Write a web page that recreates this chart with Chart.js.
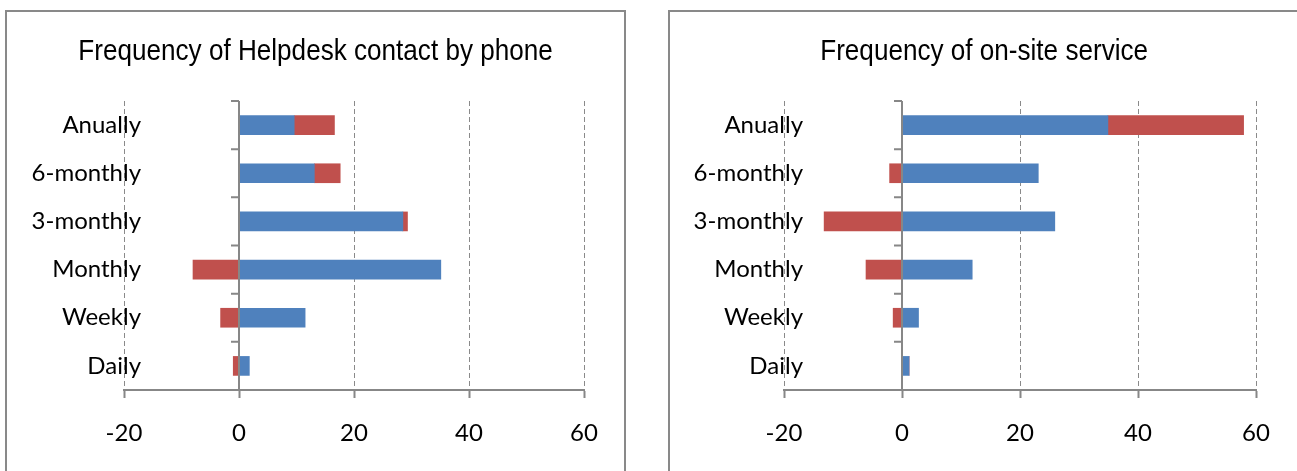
<!DOCTYPE html>
<html>
<head>
<meta charset="utf-8">
<script src="https://cdn.jsdelivr.net/npm/chart.js@4"></script>
<style>
  body { margin: 0; background: #fff; width: 1297px; height: 471px; overflow: hidden; position: relative; }
  .panel { position: absolute; top: 10px; height: 480px; border: 2px solid #898989; box-sizing: border-box; }
  .title { position: absolute; top: 36px; text-align: center; line-height: 29px; white-space: nowrap;
           font-family: "Liberation Sans", Arial, sans-serif; font-size: 29px; color: #000; }
  .title span { display: inline-block; transform: scaleX(0.9); }
  canvas { position: absolute; }
</style>
</head>
<body>
<div class="panel" style="left:5px; width:621px;"></div>
<div class="panel" style="left:668px; width:640px;"></div>
<canvas id="phone" width="617" height="459" style="left:7px; top:12px;"></canvas>
<canvas id="onsite" width="627" height="459" style="left:670px; top:12px;"></canvas>
<div class="title" style="left:5px; width:621px;"><span>Frequency of Helpdesk contact by phone</span></div>
<div class="title" style="left:668px; width:632px;"><span>Frequency of on-site service</span></div>
<script>
// frequency categories, top to bottom
const categories = ['Anually', '6-monthly', '3-monthly', 'Monthly', 'Weekly', 'Daily'];

// Helpdesk contact by phone
const phoneBlue = [9.6, 13.1, 28.5, 35.1, 11.5, 1.8];
const phoneRed = [7.0, 4.5, 0.8, -8.0, -3.2, -1.0];

// on-site service
const siteBlue = [34.9, 23.1, 25.9, 11.9, 2.8, 1.2];
const siteRed = [23.0, -2.1, -13.2, -6.1, -1.5, 0];

// value axis
const xRange = [-20, 60];
const xStep = 20;

const axisGray = '#878787';
const labelFont = { family: 'Lato, "Open Sans", sans-serif', size: 24 };

// draws the vertical axis line at 0 with its small category ticks
const zeroAxis = {
    id: 'zeroAxis',
    afterDatasetsDraw(chart) {
        const ctx = chart.ctx;
        const x0 = chart.scales.x.getPixelForValue(0);
        const y = chart.scales.y;
        const area = chart.chartArea;
        ctx.save();
        ctx.strokeStyle = axisGray;
        ctx.lineWidth = 2;
        ctx.beginPath();
        ctx.moveTo(x0, area.top);
        ctx.lineTo(x0, area.bottom);
        const step = (area.bottom - area.top) / categories.length;
        for (let i = 0; i < categories.length; i++) {
            const yy = y.getPixelForValue(i) - step / 2;
            ctx.moveTo(x0 - 8, yy);
            ctx.lineTo(x0, yy);
        }
        ctx.stroke();
        ctx.restore();
    }
};

// category labels sit on a mirrored right axis so they can be right-aligned
// anywhere inside the plot; labelRight is their right edge in canvas px
function makeChart(id, blue, red, padLeft, padRight, labelRight) {
    const canvas = document.getElementById(id);
    const areaRight = canvas.width - padRight;
    return new Chart(canvas, {
        type: 'bar',
        data: {
            labels: categories,
            datasets: [{
                data: blue,
                backgroundColor: '#4F81BD',
                barThickness: 19
            }, {
                data: red,
                backgroundColor: '#C0504D',
                barThickness: 19
            }]
        },
        options: {
            indexAxis: 'y',
            responsive: false,
            animation: false,
            devicePixelRatio: 1,
            layout: { padding: { left: padLeft, right: padRight, top: 89, bottom: 0 } },
            plugins: {
                legend: { display: false },
                tooltip: { enabled: false }
            },
            scales: {
                x: {
                    stacked: true,
                    min: xRange[0],
                    max: xRange[1],
                    ticks: { stepSize: xStep, color: '#000', font: labelFont, padding: 21 },
                    grid: { color: '#8a8a8a', lineWidth: 1, tickLength: 8, tickColor: axisGray, tickWidth: 2 },
                    border: { display: true, color: axisGray, width: 2, dash: [5, 3] },
                    afterFit(scale) { scale.height = 81; }
                },
                y: {
                    stacked: true,
                    position: 'right',
                    ticks: { color: '#000', font: labelFont, mirror: true, padding: labelRight - areaRight },
                    grid: { display: false, drawTicks: false },
                    border: { display: false },
                    afterFit(scale) {
                        scale.width = 0;
                        scale.paddingTop = 0;
                        scale.paddingBottom = 0;
                    }
                }
            }
        },
        plugins: [zeroAxis]
    });
}

makeChart('phone', phoneBlue, phoneRed, 117, 40, 134);
makeChart('onsite', siteBlue, siteRed, 114, 41, 133);
</script>
</body>
</html>
